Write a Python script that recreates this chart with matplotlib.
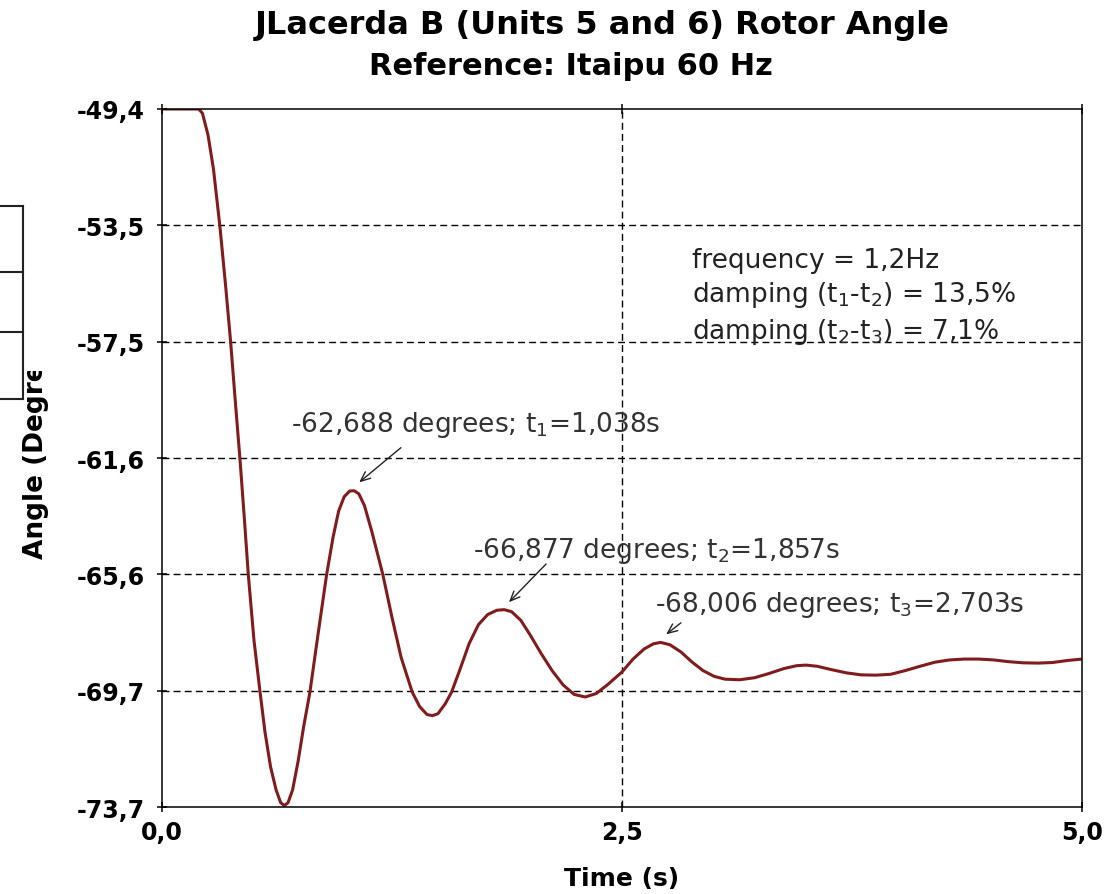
import numpy as np
import matplotlib.pyplot as plt
from matplotlib.lines import Line2D
from matplotlib.patches import Rectangle

plt.rcParams['font.family'] = 'DejaVu Sans'
plt.rcParams['mathtext.fontset'] = 'dejavusans'

# rotor angle
t = [0.00, 0.10, 0.20, 0.22, 0.25, 0.28, 0.315, 0.345, 0.373, 0.40,
     0.424, 0.447, 0.469, 0.50, 0.533, 0.56, 0.59, 0.62, 0.645, 0.665,
     0.685, 0.71, 0.74, 0.77, 0.804, 0.85, 0.895, 0.93, 0.96, 0.99,
     1.02, 1.045, 1.07, 1.10, 1.14, 1.20, 1.25, 1.30, 1.36, 1.40,
     1.44, 1.47, 1.50, 1.54, 1.574, 1.62, 1.67, 1.72, 1.77, 1.82,
     1.86, 1.90, 1.95, 2.00, 2.06, 2.12, 2.18, 2.24, 2.30, 2.36,
     2.42, 2.50, 2.56, 2.62, 2.67, 2.71, 2.76, 2.82, 2.88, 2.94,
     3.00, 3.06, 3.14, 3.22, 3.30, 3.38, 3.45, 3.50, 3.56, 3.64,
     3.72, 3.80, 3.88, 3.96, 4.04, 4.12, 4.20, 4.28, 4.36, 4.44,
     4.52, 4.60, 4.68, 4.76, 4.84, 4.92, 5.00]
angle = [-49.40, -49.40, -49.40, -49.55, -50.30, -51.50, -53.50, -55.50, -57.50, -59.70,
         -61.60, -63.60, -65.60, -67.90, -69.70, -71.10, -72.30, -73.10, -73.55, -73.65,
         -73.55, -73.10, -72.10, -70.90, -69.70, -67.60, -65.60, -64.30, -63.40, -62.90,
         -62.70, -62.69, -62.80, -63.20, -64.10, -65.60, -67.10, -68.50, -69.70, -70.20,
         -70.48, -70.52, -70.45, -70.10, -69.70, -68.90, -68.00, -67.35, -67.00, -66.85,
         -66.83, -66.90, -67.20, -67.70, -68.35, -68.95, -69.45, -69.78, -69.87, -69.75,
         -69.45, -69.00, -68.55, -68.20, -68.02, -67.97, -68.05, -68.30, -68.65, -68.95,
         -69.15, -69.25, -69.27, -69.20, -69.05, -68.88, -68.78, -68.76, -68.80, -68.92,
         -69.03, -69.10, -69.11, -69.08, -68.95, -68.80, -68.66, -68.58, -68.55, -68.55,
         -68.58, -68.64, -68.68, -68.69, -68.67, -68.60, -68.55]

yticks = np.linspace(-73.7, -49.4, 7)
ylabels = ["-73,7", "-69,7", "-65,6", "-61,6", "-57,5", "-53,5", "-49,4"]
xticks = [0.0, 2.5, 5.0]
xlabels = ["0,0", "2,5", "5,0"]

peaks = [
    ("-62,688 degrees; t$_1$=1,038s", (1.06, -62.46), (1.31, -61.13), (1.707, -60.37)),
    ("-66,877 degrees; t$_2$=1,857s", (1.875, -66.64), (2.098, -65.17), (2.69, -64.76)),
    ("-68,006 degrees; t$_3$=2,703s", (2.728, -67.75), (2.832, -67.23), (3.685, -66.64)),
]
info = "frequency = 1,2Hz\ndamping (t$_1$-t$_2$) = 13,5%\ndamping (t$_2$-t$_3$) = 7,1%"

fig = plt.figure(figsize=(11.11, 8.95), dpi=100)
ax = fig.add_axes([0.1458, 0.0972, 0.8281, 0.7799])

ax.plot(t, angle, color="#821c1c", lw=2.2, solid_joinstyle="round")

ax.set_xlim(0, 5)
ax.set_ylim(-73.7, -49.4)
ax.set_xticks(xticks, xlabels, fontweight="bold")
ax.set_yticks(yticks, ylabels, fontweight="bold")
ax.tick_params(direction="inout", length=7, width=1.1, labelsize=17, top=True)
ax.tick_params(axis="y", pad=9)
ax.tick_params(axis="x", pad=6, labeltop=False)
for s in ax.spines.values():
    s.set_linewidth(1.1)

for y in yticks[1:-1]:
    ax.axhline(y, color="black", lw=1.0, ls=(0, (5, 3)), zorder=1)
ax.axvline(2.5, color="black", lw=1.0, ls=(0, (5, 3)), zorder=1)

ax.set_xlabel("Time (s)", fontsize=18, fontweight="bold", labelpad=16)
ax.set_ylabel("Angle (Degrees)", fontsize=19, fontweight="bold")
ax.yaxis.set_label_coords(-0.123, 0.53)

for label, head, tail, pos in peaks:
    ax.annotate("", xy=head, xytext=tail,
                arrowprops=dict(arrowstyle="->,head_length=0.7,head_width=0.3", lw=1.0, color="#222222"))
    ax.text(pos[0], pos[1], label, fontsize=19, color="#333333", ha="center", va="center")

ax.text(2.88, -54.2, info, fontsize=19, color="#222222", va="top", linespacing=1.3)

fig.text(0.542, 0.971, "JLacerda B (Units 5 and 6) Rotor Angle", fontsize=23,
         fontweight="bold", ha="center", va="center")
fig.text(0.514, 0.926, "Reference: Itaipu 60 Hz", fontsize=22,
         fontweight="bold", ha="center", va="center")

# leftover table frame at the left border, covering the top of the y label
fig.patches.append(Rectangle((0, 1 - 372 / 895), 60 / 1111, 372 / 895,
                             transform=fig.transFigure, facecolor="white",
                             edgecolor="none", zorder=5))
bx = 22.7 / 1111
for yp in [207, 273, 333, 400]:
    fig.lines.append(Line2D([0, bx], [1 - yp / 895] * 2, transform=fig.transFigure,
                            color="#222222", lw=1.5, zorder=6))
fig.lines.append(Line2D([bx, bx], [1 - 207 / 895, 1 - 400 / 895], transform=fig.transFigure,
                        color="#222222", lw=1.5, zorder=6))

fig.savefig("out.png", dpi=100)
